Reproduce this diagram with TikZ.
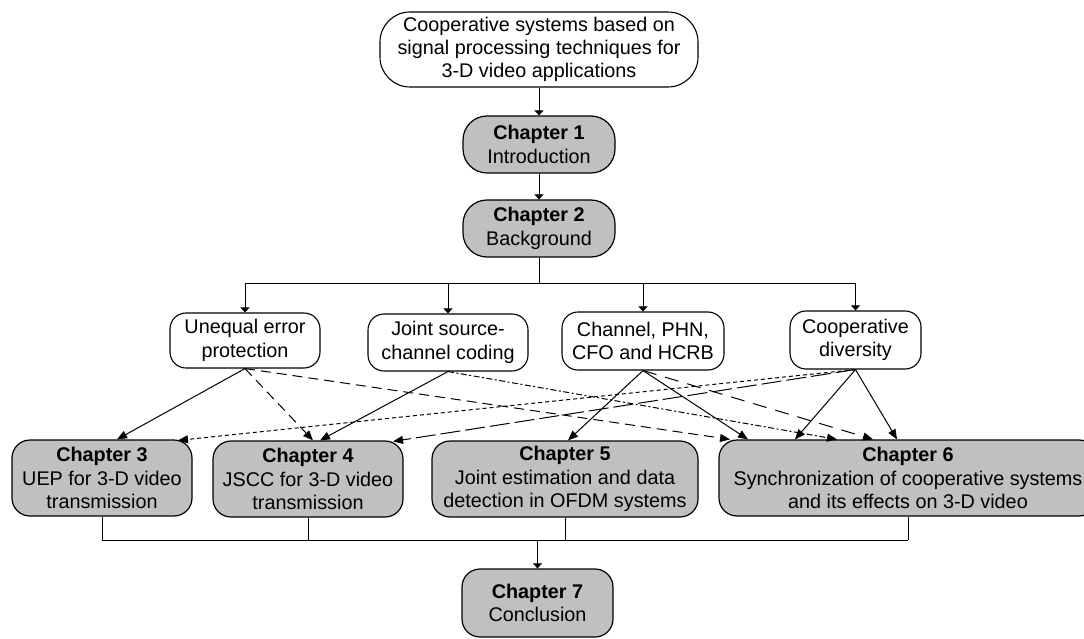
\documentclass[tikz,border=0pt]{standalone}
\usepackage{fontspec}
\setmainfont{Liberation Sans}
\usetikzlibrary{arrows.meta}
\definecolor{chapgray}{RGB}{192,192,192}

\begin{document}
\begin{tikzpicture}[x=1pt, y=-1pt,
  every node/.style={font=\fontsize{19.8}{23.3}\selectfont, align=center, inner sep=0pt},
  chapbox/.style={draw=black, line width=1.2pt, fill=chapgray, rounded corners=18pt},
  topicbox/.style={draw=black, line width=1.1pt, fill=white, rounded corners=16pt},
  link/.style={line width=1pt, draw=black},
  tree/.style={link, -{Triangle[length=5pt, width=9pt]}},
  feed/.style={link, -{Triangle[length=10pt, width=8pt]}},
  uepdash/.style={dash pattern=on 10pt off 6pt},
  longdash/.style={dash pattern=on 20pt off 5pt},
  chandash/.style={dash pattern=on 14pt off 9pt},
  dashdot/.style={dash pattern=on 6pt off 2.5pt on 2pt off 2.5pt},
  shortdash/.style={dash pattern=on 4pt off 3pt},
]
\useasboundingbox (0,0) rectangle (1084,639);

% ---- top of the outline ----
\node[topicbox, rounded corners=30pt, minimum width=318pt, minimum height=75pt] (title) at (539,49.5)
  {Cooperative systems based on\\signal processing techniques for\\3-D video applications};
\node[chapbox, rounded corners=24pt, minimum width=152pt, minimum height=57pt] (ch1) at (539,144.5)
  {\textbf{Chapter 1}\\Introduction};
\node[chapbox, rounded corners=24pt, minimum width=152pt, minimum height=57pt] (ch2) at (539,228.5)
  {\textbf{Chapter 2}\\Background};

% ---- research topics ----
\node[topicbox, minimum width=150pt, minimum height=55pt] (uep) at (245,340.5)
  {Unequal error\\protection};
\node[topicbox, minimum width=160pt, minimum height=57pt] (jscc) at (448,342.5)
  {Joint source-\\channel coding};
\node[topicbox, minimum width=162pt, minimum height=58pt] (chan) at (643,341)
  {Channel, PHN,\\CFO and HCRB};
\node[topicbox, minimum width=131pt, minimum height=58pt] (coop) at (855.5,340)
  {Cooperative\\diversity};

% ---- contribution chapters ----
\node[chapbox, minimum width=180pt, minimum height=76pt] (ch3) at (102,478)
  {\textbf{Chapter 3}\\UEP for 3-D video\\transmission};
\node[chapbox, minimum width=190pt, minimum height=76pt] (ch4) at (308,479)
  {\textbf{Chapter 4}\\JSCC for 3-D video\\transmission};
\node[chapbox, minimum width=266pt, minimum height=76pt] (ch5) at (565,479)
  {\textbf{Chapter 5}\\Joint estimation and data\\detection in OFDM systems};
\node[chapbox, minimum width=378pt, minimum height=76pt] (ch6) at (908,478)
  {\textbf{Chapter 6}\\Synchronization of cooperative systems\\and its effects on 3-D video};
\node[chapbox, minimum width=151pt, minimum height=68pt] (ch7) at (537.5,603)
  {\textbf{Chapter 7}\\Conclusion};

% ---- bus lines ----
\coordinate (split) at (539,283);
\coordinate (merge) at (538,540);

\draw[tree] (title.south) -- (ch1.north);
\draw[tree] (ch1.south) -- (ch2.north);
\draw[link] (ch2.south) -- (split);
\draw[link] (uep.north |- split) -- (coop.north |- split);
\foreach \n in {uep,jscc,chan,coop}
  \draw[tree] (\n.north |- split) -- (\n.north);

\foreach \n in {ch3,ch4,ch5,ch6}
  \draw[link] (\n.south) -- (\n.south |- merge);
\draw[link] (ch3.south |- merge) -- (ch6.south |- merge);
\draw[tree] (ch7.north |- merge) -- (ch7.north);

% ---- topic-to-chapter links ----
\draw[feed] (uep.south) -- ([xshift=15pt]ch3.north);
\draw[feed, uepdash] (uep.south) -- ([xshift=5pt]ch4.north);
\draw[feed, uepdash] (uep.south) -- ([xshift=-178pt]ch6.north);

\draw[feed] (jscc.south) -- ([xshift=12pt]ch4.north);
\draw[feed, dashdot] (jscc.south) -- ([xshift=-71pt]ch6.north);

\draw[feed] (chan.south) -- ([xshift=3pt]ch5.north);
\draw[feed] (chan.south) -- ([xshift=-160pt]ch6.north);
\draw[feed, chandash] (chan.south) -- ([xshift=-35pt]ch6.north);

\draw[feed, shortdash] (coop.south) -- ([xshift=76pt,yshift=-1pt]ch3.north);
\draw[feed, longdash] (coop.south) -- ([xshift=85pt,yshift=-1pt]ch4.north);
\draw[feed] (coop.south) -- ([xshift=-113pt]ch6.north);
\draw[feed] (coop.south) -- ([xshift=-11pt]ch6.north);
\end{tikzpicture}
\end{document}
